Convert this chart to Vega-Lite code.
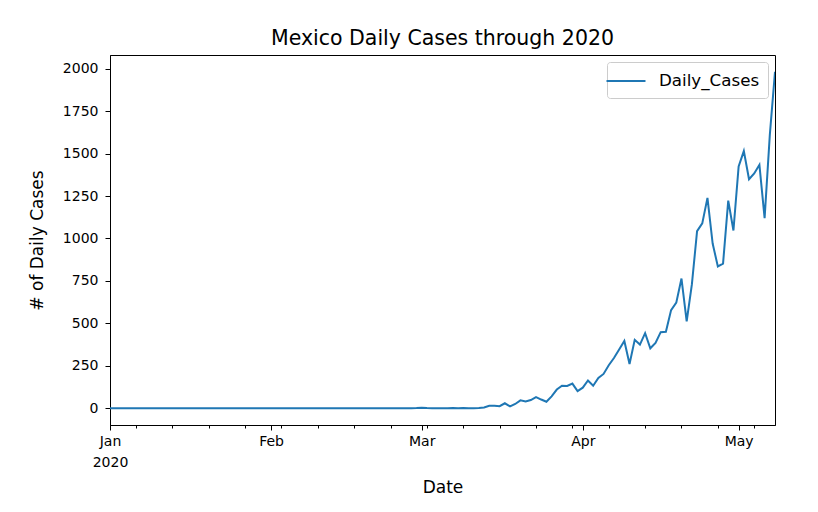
{
  "$schema": "https://vega.github.io/schema/vega-lite/v6.json",
  "width": 665,
  "height": 370,
  "autosize": "none",
  "padding": {"left": 110, "top": 55, "right": 43, "bottom": 87},
  "background": "white",
  "title": {"text": "Mexico Daily Cases through 2020", "fontSize": 20.5, "font": "DejaVu Sans", "fontWeight": "normal", "color": "black", "offset": 6},
  "config": {
    "view": {"stroke": "black", "strokeWidth": 1},
    "axis": {"grid": false, "labelFont": "DejaVu Sans", "titleFont": "DejaVu Sans", "labelFontSize": 14, "titleFontSize": 17, "titleFontWeight": "normal", "labelColor": "black", "titleColor": "black", "domainColor": "black", "tickColor": "black", "tickSize": 5, "domainWidth": 1},
    "legend": {"orient": "top-right", "offset": 7, "strokeColor": "#cccccc", "cornerRadius": 3, "padding": 8, "fillColor": "white", "labelFontSize": 16.7, "labelFont": "DejaVu Sans", "labelColor": "black", "symbolType": "M-2,0H2", "symbolStrokeWidth": 2, "symbolSize": 380, "labelOffset": 22}
  },
  "data": {"values": [
    {"date": "2020-01-01", "cases": 0}, {"date": "2020-01-02", "cases": 0}, {"date": "2020-01-03", "cases": 0}, {"date": "2020-01-04", "cases": 0}, {"date": "2020-01-05", "cases": 0}, {"date": "2020-01-06", "cases": 0}, {"date": "2020-01-07", "cases": 0}, {"date": "2020-01-08", "cases": 0}, {"date": "2020-01-09", "cases": 0}, {"date": "2020-01-10", "cases": 0},
    {"date": "2020-01-11", "cases": 0}, {"date": "2020-01-12", "cases": 0}, {"date": "2020-01-13", "cases": 0}, {"date": "2020-01-14", "cases": 0}, {"date": "2020-01-15", "cases": 0}, {"date": "2020-01-16", "cases": 0}, {"date": "2020-01-17", "cases": 0}, {"date": "2020-01-18", "cases": 0}, {"date": "2020-01-19", "cases": 0}, {"date": "2020-01-20", "cases": 0},
    {"date": "2020-01-21", "cases": 0}, {"date": "2020-01-22", "cases": 0}, {"date": "2020-01-23", "cases": 0}, {"date": "2020-01-24", "cases": 0}, {"date": "2020-01-25", "cases": 0}, {"date": "2020-01-26", "cases": 0}, {"date": "2020-01-27", "cases": 0}, {"date": "2020-01-28", "cases": 0}, {"date": "2020-01-29", "cases": 0}, {"date": "2020-01-30", "cases": 0},
    {"date": "2020-01-31", "cases": 0}, {"date": "2020-02-01", "cases": 0}, {"date": "2020-02-02", "cases": 0}, {"date": "2020-02-03", "cases": 0}, {"date": "2020-02-04", "cases": 0}, {"date": "2020-02-05", "cases": 0}, {"date": "2020-02-06", "cases": 0}, {"date": "2020-02-07", "cases": 0}, {"date": "2020-02-08", "cases": 0}, {"date": "2020-02-09", "cases": 0},
    {"date": "2020-02-10", "cases": 0}, {"date": "2020-02-11", "cases": 0}, {"date": "2020-02-12", "cases": 0}, {"date": "2020-02-13", "cases": 0}, {"date": "2020-02-14", "cases": 0}, {"date": "2020-02-15", "cases": 0}, {"date": "2020-02-16", "cases": 0}, {"date": "2020-02-17", "cases": 0}, {"date": "2020-02-18", "cases": 0}, {"date": "2020-02-19", "cases": 0},
    {"date": "2020-02-20", "cases": 0}, {"date": "2020-02-21", "cases": 0}, {"date": "2020-02-22", "cases": 0}, {"date": "2020-02-23", "cases": 0}, {"date": "2020-02-24", "cases": 0}, {"date": "2020-02-25", "cases": 0}, {"date": "2020-02-26", "cases": 0}, {"date": "2020-02-27", "cases": 0}, {"date": "2020-02-28", "cases": 0}, {"date": "2020-02-29", "cases": 1},
    {"date": "2020-03-01", "cases": 3}, {"date": "2020-03-02", "cases": 1}, {"date": "2020-03-03", "cases": 0}, {"date": "2020-03-04", "cases": 0}, {"date": "2020-03-05", "cases": 0}, {"date": "2020-03-06", "cases": 0}, {"date": "2020-03-07", "cases": 1}, {"date": "2020-03-08", "cases": 0}, {"date": "2020-03-09", "cases": 1}, {"date": "2020-03-10", "cases": 0},
    {"date": "2020-03-11", "cases": 0}, {"date": "2020-03-12", "cases": 1}, {"date": "2020-03-13", "cases": 4}, {"date": "2020-03-14", "cases": 14}, {"date": "2020-03-15", "cases": 15}, {"date": "2020-03-16", "cases": 12}, {"date": "2020-03-17", "cases": 29}, {"date": "2020-03-18", "cases": 11}, {"date": "2020-03-19", "cases": 25}, {"date": "2020-03-20", "cases": 46},
    {"date": "2020-03-21", "cases": 39}, {"date": "2020-03-22", "cases": 48}, {"date": "2020-03-23", "cases": 65}, {"date": "2020-03-24", "cases": 51}, {"date": "2020-03-25", "cases": 38}, {"date": "2020-03-26", "cases": 70}, {"date": "2020-03-27", "cases": 110}, {"date": "2020-03-28", "cases": 132}, {"date": "2020-03-29", "cases": 131}, {"date": "2020-03-30", "cases": 145},
    {"date": "2020-03-31", "cases": 101}, {"date": "2020-04-01", "cases": 121}, {"date": "2020-04-02", "cases": 163}, {"date": "2020-04-03", "cases": 132}, {"date": "2020-04-04", "cases": 178}, {"date": "2020-04-05", "cases": 202}, {"date": "2020-04-06", "cases": 253}, {"date": "2020-04-07", "cases": 296}, {"date": "2020-04-08", "cases": 346}, {"date": "2020-04-09", "cases": 396},
    {"date": "2020-04-10", "cases": 260}, {"date": "2020-04-11", "cases": 403}, {"date": "2020-04-12", "cases": 375}, {"date": "2020-04-13", "cases": 442}, {"date": "2020-04-14", "cases": 353}, {"date": "2020-04-15", "cases": 385}, {"date": "2020-04-16", "cases": 448}, {"date": "2020-04-17", "cases": 450}, {"date": "2020-04-18", "cases": 578}, {"date": "2020-04-19", "cases": 622},
    {"date": "2020-04-20", "cases": 764}, {"date": "2020-04-21", "cases": 511}, {"date": "2020-04-22", "cases": 729}, {"date": "2020-04-23", "cases": 1043}, {"date": "2020-04-24", "cases": 1089}, {"date": "2020-04-25", "cases": 1239}, {"date": "2020-04-26", "cases": 970}, {"date": "2020-04-27", "cases": 835}, {"date": "2020-04-28", "cases": 852}, {"date": "2020-04-29", "cases": 1223},
    {"date": "2020-04-30", "cases": 1047}, {"date": "2020-05-01", "cases": 1425}, {"date": "2020-05-02", "cases": 1515}, {"date": "2020-05-03", "cases": 1349}, {"date": "2020-05-04", "cases": 1383}, {"date": "2020-05-05", "cases": 1434}, {"date": "2020-05-06", "cases": 1120}, {"date": "2020-05-07", "cases": 1609}, {"date": "2020-05-08", "cases": 1982}
  ]},
  "layer": [
    {
      "mark": {"type": "line", "strokeWidth": 2, "clip": true},
      "encoding": {
        "x": {"field": "date", "type": "temporal",
          "scale": {"type": "utc", "domain": [{"year": 2020, "month": 1, "date": 1, "utc": true}, {"year": 2020, "month": 5, "date": 8, "utc": true}], "nice": false},
          "axis": {"title": "Date", "orient": "bottom",
            "values": [{"year": 2020, "month": 1, "date": 1, "utc": true}, {"year": 2020, "month": 2, "date": 1, "utc": true}, {"year": 2020, "month": 3, "date": 1, "utc": true}, {"year": 2020, "month": 4, "date": 1, "utc": true}, {"year": 2020, "month": 5, "date": 1, "utc": true}],
            "labelExpr": "utcmonth(datum.value) == 0 ? ['Jan', '2020'] : utcFormat(datum.value, '%b')",
            "labelPadding": 4, "labelLineHeight": 21, "titlePadding": 10, "labelFlush": false, "labelOverlap": false}},
        "y": {"field": "cases", "type": "quantitative",
          "scale": {"domain": [-99, 2081], "nice": false, "zero": false},
          "axis": {"title": "# of Daily Cases", "format": "d", "values": [0, 250, 500, 750, 1000, 1250, 1500, 1750, 2000], "labelPadding": 7, "titlePadding": 16}},
        "color": {"datum": "Daily_Cases", "type": "nominal", "scale": {"range": ["#1f77b4"]}, "legend": {"title": null}}
      }
    },
    {
      "mark": {"type": "line", "opacity": 0},
      "encoding": {
        "x": {"field": "date", "type": "temporal",
          "axis": {"title": null, "orient": "bottom", "labels": false, "domain": false, "tickSize": 3,
            "values": [{"year": 2020, "month": 1, "date": 6, "utc": true}, {"year": 2020, "month": 1, "date": 13, "utc": true}, {"year": 2020, "month": 1, "date": 20, "utc": true}, {"year": 2020, "month": 1, "date": 27, "utc": true}, {"year": 2020, "month": 2, "date": 3, "utc": true}, {"year": 2020, "month": 2, "date": 10, "utc": true}, {"year": 2020, "month": 2, "date": 17, "utc": true}, {"year": 2020, "month": 2, "date": 24, "utc": true}, {"year": 2020, "month": 3, "date": 2, "utc": true}, {"year": 2020, "month": 3, "date": 9, "utc": true}, {"year": 2020, "month": 3, "date": 16, "utc": true}, {"year": 2020, "month": 3, "date": 23, "utc": true}, {"year": 2020, "month": 3, "date": 30, "utc": true}, {"year": 2020, "month": 4, "date": 6, "utc": true}, {"year": 2020, "month": 4, "date": 13, "utc": true}, {"year": 2020, "month": 4, "date": 20, "utc": true}, {"year": 2020, "month": 4, "date": 27, "utc": true}, {"year": 2020, "month": 5, "date": 4, "utc": true}]}},
        "y": {"field": "cases", "type": "quantitative",
          "axis": {"title": "# of Daily Cases", "format": "d", "values": [0, 250, 500, 750, 1000, 1250, 1500, 1750, 2000], "labelPadding": 7, "titlePadding": 16}}
      }
    }
  ],
  "resolve": {"axis": {"x": "independent"}}
}
